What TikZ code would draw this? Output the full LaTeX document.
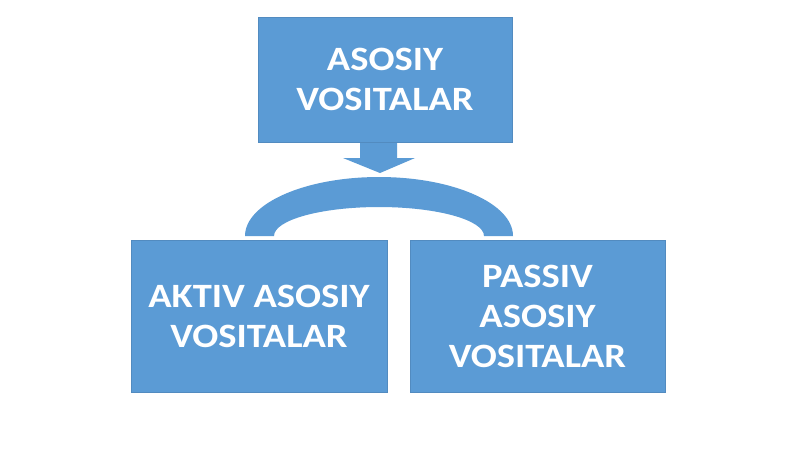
\documentclass[tikz,border=0pt]{standalone}
\usepackage{fontspec}
\setmainfont{Carlito}[FakeStretch=1.13]
\usepackage{tikz}
\usetikzlibrary{calc}
\definecolor{blokblue}{HTML}{5B9BD5}
\tikzset{
  blok/.style={fill=blokblue,draw=blokblue!90!black,very thin,text=white,align=center,inner sep=0,
    font=\bfseries\fontsize{9.7}{11.4}\selectfont},
}
\begin{document}
\begin{tikzpicture}
\useasboundingbox[fill=white](0,0)rectangle(8,4.49);
%boxes
\node[blok,minimum width=2.54cm,minimum height=1.25cm](asosiy)at(3.85,3.695){ASOSIY\\VOSITALAR};
\node[blok,minimum width=2.56cm,minimum height=1.52cm](aktiv)at(2.59,1.33){AKTIV ASOSIY\\VOSITALAR};
\node[blok,minimum width=2.55cm,minimum height=1.52cm](passiv)at(5.375,1.33){PASSIV\\ASOSIY\\VOSITALAR};
%down arrow
\fill[blokblue](3.60,3.06)--(3.97,3.06)--(3.97,2.91)--(4.15,2.91)--(3.80,2.76)--(3.43,2.91)--(3.60,2.91)--cycle;
%arc
\fill[blokblue](2.45,2.13)arc[start angle=180,end angle=0,x radius=1.34,y radius=.59]
  --(4.84,2.13)arc[start angle=0,end angle=180,x radius=1.05,y radius=.29]--cycle;
\end{tikzpicture}
\end{document}
